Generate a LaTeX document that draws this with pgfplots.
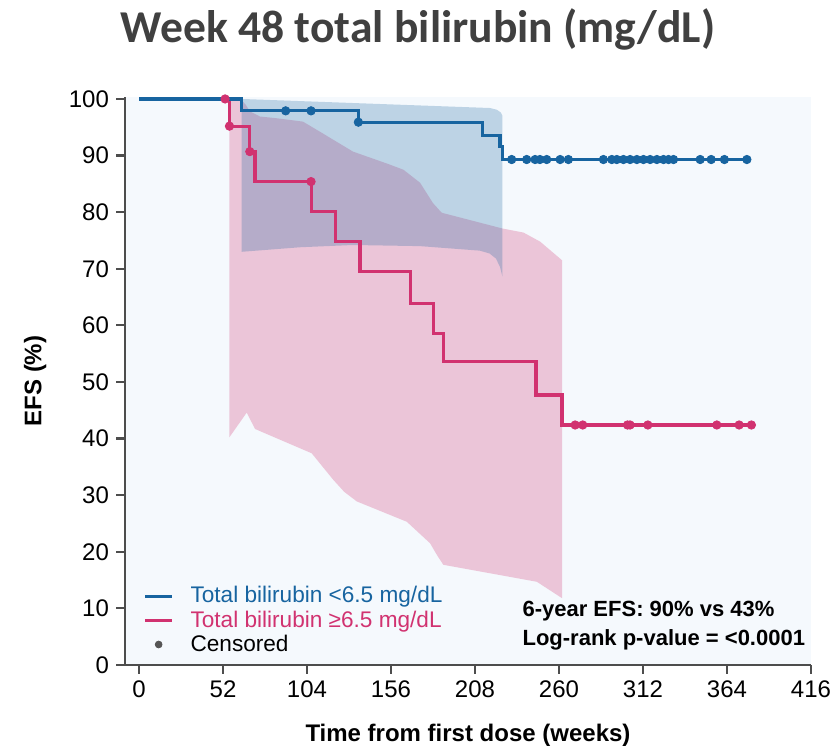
\documentclass[border=0pt]{standalone}
\usepackage{fontspec}
\setmainfont{Liberation Sans}
\newfontfamily\titlefont{Carlito}
\usepackage{pgfplots}
\pgfplotsset{compat=1.18}

\definecolor{lowbil}{RGB}{23,100,160}
\definecolor{highbil}{RGB}{209,50,112}
\definecolor{axisgray}{RGB}{77,77,77}
\definecolor{panel}{RGB}{245,249,253}
\definecolor{titlegray}{RGB}{64,64,64}
\definecolor{censgray}{RGB}{85,85,85}

\begin{document}
\begin{tikzpicture}
\useasboundingbox (0,0) rectangle (417.5pt,373.5pt);
\begin{axis}[
  at={(62.5pt,41pt)}, anchor=south west,
  scale only axis, width=343pt, height=284pt,
  xmin=-8.67, xmax=416, ymin=0, ymax=100.35,
  xtick={0,52,...,416}, ytick={0,10,...,100},
  axis x line*=bottom, axis y line*=left,
  axis line style={color=axisgray, line width=1.25pt},
  tick style={color=axisgray, line width=1.1pt},
  tick align=outside, major tick length=4.5pt,
  axis background/.style={fill=panel},
  /pgf/number format/assume math mode=true,
  ticklabel style={font=\fontsize{12}{14}\selectfont, text=black},
  xlabel={Time from first dose (weeks)},
  ylabel={EFS (\%)},
  xlabel style={at={(axis description cs:0.5,-0.123)}, anchor=center, font=\bfseries\fontsize{12}{14}\selectfont},
  ylabel style={at={(axis description cs:-0.131,0.5)}, anchor=center, font=\bfseries\fontsize{12}{14}\selectfont},
  clip=false,
  legend cell align=left,
  legend style={at={(rel axis cs:0.018,0.146)}, anchor=north west, draw=none, fill=none,
    font=\fontsize{11.3}{13}\selectfont, row sep=-1.6pt, inner sep=0pt},
]
% 95% confidence band, total bilirubin >= 6.5 mg/dL
\addplot[fill=highbil, fill opacity=0.26, draw=none, forget plot] coordinates {
  (55.9,100) (63.6,99.8) (66,99.0) (68.7,97.8) (74.9,96.9) (85,96.6) (101.5,96.0)
  (112.1,94.2) (122,92.5) (132.5,90.7) (153.4,88.6) (163.7,87.5) (174,85.2)
  (182,81.6) (187.4,79.9) (225.2,77.1) (238,76.4) (248.3,74.8) (261.9,71.5)
  (261.9,11.8) (246.3,14.7) (188.4,17.7) (184.5,19.4) (180.2,21.5) (165.8,25.3)
  (134.8,28.9) (127,30.6) (120.3,32.7) (106.9,37.4) (71.8,41.7) (66.7,44.6) (55.9,40.2)
} -- cycle;
% 95% confidence band, total bilirubin < 6.5 mg/dL
\addplot[fill=lowbil, fill opacity=0.25, draw=none, forget plot] coordinates {
  (63.6,100) (150,99.1) (217.3,98.4) (221.5,98.1) (224,97.6) (225,97.0)
  (225,68.6) (223.5,70.3) (221,71.8) (217,72.7) (211,73.2) (174,74.0)
  (132.5,74.2) (99.7,73.8) (63.6,73.0)
} -- cycle;

% Kaplan-Meier curves
\addplot[const plot, color=highbil, line width=1.6pt, forget plot] coordinates {
  (0,100) (56,95.2) (68.3,90.7) (71.8,85.4) (107,80.1) (121.4,74.8) (136.8,69.5)
  (168.2,63.9) (182.3,58.6) (188.5,53.6) (245.8,47.7) (261.9,42.4) (379.1,42.4)
};
\addplot[const plot, color=lowbil, line width=1.6pt, forget plot] coordinates {
  (0,100) (63.4,97.9) (135.8,95.9) (212.7,93.6) (223.5,91.6) (225,89.3) (376.3,89.3)
};

% censored observations
\addplot[only marks, mark=*, mark size=2.1pt, color=highbil, forget plot] coordinates {
  (53.3,100) (56,95.2) (68.6,90.7) (106.5,85.4)
  (270,42.4) (274.7,42.4) (302.4,42.4) (304,42.4) (315,42.4) (357.7,42.4) (371.5,42.4) (379.1,42.4)
};
\addplot[only marks, mark=*, mark size=2.1pt, color=lowbil, forget plot] coordinates {
  (90.8,97.9) (106.5,97.9) (135.8,95.9)
  (230.7,89.3) (240,89.3) (245.2,89.3) (248.2,89.3) (252.4,89.3) (260.7,89.3) (265.8,89.3)
  (287.5,89.3) (292.7,89.3) (295.8,89.3) (299.9,89.3) (304,89.3) (308.2,89.3) (312.3,89.3)
  (316.4,89.3) (320.6,89.3) (324.7,89.3) (327.8,89.3) (330.9,89.3) (347.4,89.3) (354.2,89.3)
  (362.4,89.3) (376.3,89.3)
};

% legend
\addlegendimage{legend image code/.code={\path (0pt,0pt) (24pt,0pt); \draw[lowbil, line width=1.6pt] (3.5pt,0pt) -- (17pt,0pt);}}
\addlegendentry{\textcolor{lowbil}{Total bilirubin <6.5 mg/dL}}
\addlegendimage{legend image code/.code={\path (0pt,0pt) (24pt,0pt); \draw[highbil, line width=1.6pt] (3.5pt,0pt) -- (17pt,0pt);}}
\addlegendentry{\textcolor{highbil}{Total bilirubin ≥6.5 mg/dL}}
\addlegendimage{legend image code/.code={\path (0pt,0pt) (24pt,0pt); \fill[censgray] (10.25pt,0pt) circle (1.7pt);}}
\addlegendentry{Censored}

\node[anchor=west, align=left, font=\bfseries\fontsize{11}{14}\selectfont, inner sep=0pt]
  at (rel axis cs:0.579,0.069) {6-year EFS: 90\% vs 43\%\\[0.5pt]Log-rank p-value = <0.0001};
\end{axis}
\node[font=\titlefont\bfseries\fontsize{22.8}{27}\selectfont, text=titlegray] at (209pt,359pt)
  {Week 48 total bilirubin (mg/dL)};
\end{tikzpicture}
\end{document}
